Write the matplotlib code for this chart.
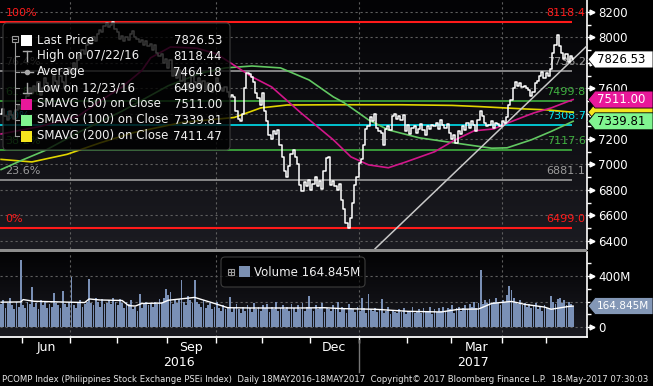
import matplotlib
matplotlib.use("Agg")
import matplotlib.pyplot as plt
from matplotlib.patches import Polygon, Rectangle, FancyBboxPatch
from matplotlib.colors import LinearSegmentedColormap
from matplotlib.transforms import blended_transform_factory
import numpy as np
import pandas as pd

# ---- data (PCOMP daily close, 18 May 2016 - 17 May 2017) ----
close = [
    7400, 7440, 7380, 7350, 7420, 7390, 7360, 7430, 7470, 7440,
    7500, 7470, 7540, 7600, 7560, 7620, 7580, 7650, 7550, 7600,
    7680, 7640, 7590, 7620, 7700, 7660, 7620, 7700, 7650, 7600,
    7720, 7760, 7720, 7800, 7750, 7820, 7860, 7900, 7870, 7940,
    7980, 7950, 8000, 7970, 8030, 8060, 8040, 8090, 8110, 8080,
    8100, 8118, 8070, 8040, 7990, 8010, 7970, 8000, 7980, 8030,
    8050, 8000, 7990, 7960, 7980, 7940, 7970, 7930, 7950, 7900,
    7940, 7880, 7850, 7870, 7800, 7830, 7760, 7820, 7700, 7760,
    7680, 7740, 7660, 7720, 7600, 7640, 7580, 7700, 7650, 7610,
    7680, 7620, 7660, 7590, 7640, 7600, 7570, 7620, 7680, 7640,
    7600, 7580, 7610, 7570, 7530, 7550, 7530, 7420, 7360, 7340,
    7400, 7600, 7720, 7710, 7690, 7650, 7560, 7520, 7470, 7560,
    7420, 7340, 7230, 7200, 7260, 7240, 7270, 7150, 7060, 6950,
    6900, 6990, 7080, 7110, 7060, 7000, 6840, 6790, 6860, 6830,
    6880, 6800, 6850, 6900, 6830, 6870, 6810, 6950, 7050, 7060,
    6840, 6870, 6830, 6800, 6850, 6720, 6650, 6540, 6499, 6580,
    6700, 6840, 6900, 7010, 7040, 7150, 7280, 7300, 7370, 7340,
    7400, 7290, 7260, 7250, 7150, 7280, 7300, 7270, 7380, 7400,
    7360, 7380, 7350, 7390, 7260, 7310, 7240, 7290, 7300, 7250,
    7280, 7320, 7270, 7230, 7300, 7280, 7310, 7300, 7330, 7280,
    7350, 7310, 7290, 7320, 7250, 7200, 7230, 7170, 7260, 7240,
    7300, 7270, 7330, 7290, 7340, 7310, 7260, 7350, 7420, 7380,
    7330, 7300, 7310, 7340, 7290, 7330, 7320, 7300, 7340, 7330,
    7370, 7470, 7510, 7600, 7650, 7620, 7640, 7610, 7620, 7600,
    7590, 7540, 7570, 7640, 7660, 7700, 7730, 7680, 7720, 7700,
    7750, 7880, 7940, 8020, 7930, 7880, 7830, 7870, 7810, 7850,
    7826.53,
]

# volume in millions
volume = [
    180, 210, 150, 190, 230, 170, 140, 200, 160, 525,
    170, 150, 200, 180, 314, 160, 190, 140, 210, 170,
    200, 150, 180, 160, 267, 190, 170, 150, 282, 180,
    160, 200, 392, 170, 150, 190, 210, 160, 180, 200,
    376, 190, 170, 230, 200, 160, 220, 180, 190, 210,
    180, 230, 200, 170, 220, 190, 150, 200, 180, 210,
    140, 160, 130, 259, 150, 180, 200, 170, 190, 160,
    200, 180, 220, 190, 230, 298, 250, 274, 180, 210,
    190, 220, 368, 200, 170, 240, 210, 190, 368, 200,
    180, 160, 210, 150, 170, 190, 140, 160, 200, 150,
    130, 170, 140, 160, 235, 120, 150, 180, 140, 110,
    160, 130, 170, 150, 120, 190, 140, 160, 130, 170,
    150, 180, 120, 160, 140, 200, 130, 150, 170, 140,
    160, 130, 180, 150, 120, 170, 140, 190, 130, 160,
    243, 150, 130, 170, 140, 160, 190, 120, 150, 140,
    130, 170, 140, 196, 120, 160, 140, 110, 180, 150,
    140, 120, 160, 130, 227, 150, 110, 259, 140, 130,
    150, 120, 140, 220, 110, 130, 160, 100, 130, 120,
    110, 140, 120, 150, 100, 130, 120, 160, 110, 130,
    140, 110, 150, 120, 130, 160, 100, 140, 120, 150,
    130, 160, 120, 150, 140, 170, 110, 150, 160, 130,
    150, 170, 140, 180, 160, 200, 150, 190, 447, 180,
    210, 190, 220, 180, 200, 230, 190, 170, 210, 200,
    250, 321, 290, 230, 200, 180, 210, 170, 190, 160,
    180, 150, 170, 190, 140, 160, 130, 170, 150, 140,
    243, 200, 180, 220, 230, 190, 210, 170, 200, 180,
    164.845,
]

# moving averages: (day index, value)
sma50_idx = [0, 18, 35, 45, 55, 64, 68, 77, 89, 98, 106, 114, 123, 136, 151, 159,
             167, 176, 184, 197, 206, 215, 224, 230, 242, 250, 260]
sma50_val = [7240, 7300, 7380, 7500, 7610, 7740, 7840, 7925, 7915, 7870, 7780, 7690,
             7610, 7410, 7194, 7060, 6997, 6974, 7020, 7100, 7190, 7265, 7280, 7325,
             7405, 7445, 7511]
sma100_idx = [0, 9, 20, 36, 55, 76, 91, 102, 114, 127, 140, 151, 156, 167, 176, 190,
              212, 223, 230, 241, 250, 260]
sma100_val = [6960, 7030, 7110, 7260, 7420, 7620, 7720, 7760, 7775, 7760, 7665, 7532,
              7485, 7351, 7272, 7210, 7155, 7128, 7131, 7194, 7260, 7340]
sma200_idx = [0, 14, 30, 45, 60, 82, 106, 118, 130, 151, 182, 205, 218, 238, 248, 260]
sma200_val = [7040, 7020, 7080, 7170, 7250, 7330, 7370, 7445, 7468, 7470, 7470, 7465,
              7455, 7437, 7430, 7411]
volma_idx = [0, 9, 10, 15, 38, 40, 45, 55, 58, 61, 64, 73, 76, 88, 97, 103, 114, 136,
             147, 155, 170, 185, 200, 208, 217, 223, 232, 238, 247, 250, 258, 260]
volma_val = [195, 197, 215, 202, 192, 220, 212, 208, 168, 165, 185, 188, 210, 232, 185,
             152, 150, 150, 152, 145, 140, 124, 119, 140, 142, 185, 201, 178, 157, 140,
             162, 165]

# trend line (day index, value)
trend_idx = [170, 267]
trend_val = [6337, 7945]

# Fibonacci retracement levels
fib_pct = ["100%", "76.4%", "61.8%", "50%", "38.2%", "23.6%", "0%"]
fib_val = [8118.44, 7736.2, 7499.8, 7308.7, 7117.6, 6881.1, 6499.0]
fib_txt = ["8118.4", "7736.2", "7499.8", "7308.7", "7117.6", "6881.1", "6499.0"]
fib_col = ["#ff1a1a", "#9a9a9a", "#3fb03f", "#00e0f0", "#3fb03f", "#9a9a9a", "#ff1a1a"]

legend_labels = ["Last Price", "High on 07/22/16", "Average", "Low on 12/23/16",
                 "SMAVG (50) on Close", "SMAVG (100) on Close", "SMAVG (200) on Close"]
legend_values = ["7826.53", "8118.44", "7464.18", "6499.00", "7511.00", "7339.81", "7411.47"]

price_ticks = list(range(6400, 8201, 200))
hidden_ticks = [7400, 7800]  # covered by the value tags
month_labels = {6: "Jun", 9: "Sep", 12: "Dec", 3: "Mar"}
footer = ("PCOMP Index (Philippines Stock Exchange PSEi Index)  Daily 18MAY2016-18MAY2017  "
          "Copyright\u00a9 2017 Bloomberg Finance L.P.  18-May-2017 07:30:03")

# ---- figure layout ----
W, H = 653, 386
fig = plt.figure(figsize=(W / 100, H / 100), dpi=100, facecolor="black")
plt.rcParams["font.family"] = ["DejaVu Sans"]

ax = fig.add_axes([0, 1 - 249 / H, 587 / W, 249 / H])
axv = fig.add_axes([0, 1 - 337 / H, 587 / W, (337 - 252) / H])
ov = fig.add_axes([0, 0, 1, 1], zorder=10)
ov.set_xlim(0, W)
ov.set_ylim(H, 0)
ov.axis("off")
ov.patch.set_alpha(0)

n = len(close)
x = np.arange(n)
dates = pd.bdate_range("2016-05-18", periods=n)
XL = (-0.5, 266.3)

grad = LinearSegmentedColormap.from_list("bg", ["#030305", "#1b1b21"])
for a in (ax, axv):
    a.imshow(np.linspace(0, 1, 100).reshape(-1, 1), extent=[0, 1, 0, 1], transform=a.transAxes,
             cmap=grad, aspect="auto", zorder=0, origin="upper")
    a.set_xlim(*XL)
    for s in ("top", "left", "bottom"):
        a.spines[s].set_visible(False)
    a.spines["right"].set_color("white")
    a.spines["right"].set_linewidth(1.2)
    a.yaxis.tick_right()
    a.tick_params(axis="y", colors="white", labelsize=8.5, length=5, width=1, pad=3)
    a.tick_params(axis="y", which="minor", colors="white", length=3, width=1)

ax.set_ylim(6334.7, 8294.5)
axv.set_ylim(-75, 584)

# month starts
mstart = [i for i in range(1, n) if dates[i].month != dates[i - 1].month]
quarters = [i for i in mstart if dates[i].month in (1, 4, 7, 10)]
grid_kw = dict(color="#5e5e5e", lw=0.8, ls=(0, (2, 2.5)), zorder=1)
for q in quarters:
    ax.axvline(q - 0.5, **grid_kw)
    axv.axvline(q - 0.5, **grid_kw)
for t in price_ticks:
    ax.axhline(t, **grid_kw)
for t in (0, 200, 400):
    axv.axhline(t, **grid_kw)

# price axis ticks
ax.set_yticks(price_ticks)
ax.set_yticklabels(["" if t in hidden_ticks else str(t) for t in price_ticks])
ax.set_yticks(range(6500, 8300, 200), minor=True)
ax.set_xticks([])
trans = blended_transform_factory(ax.transAxes, ax.transData)
ax.plot(np.full(len(price_ticks), 1 + 5 / 587), price_ticks, ls="none", marker=">", ms=3.5,
        color="white", transform=trans, clip_on=False)

# fib levels
for p, v, t, c in zip(fib_pct, fib_val, fib_txt, fib_col):
    lw = 1.5 if c == "#ff1a1a" else 1.2
    ax.hlines(v, -0.5, 259.5, color=c, lw=lw, zorder=2)
    ax.annotate(p, (2, v), xytext=(0, 6.5), textcoords="offset points", color=c,
                fontsize=8, va="center", ha="left", zorder=2)
    ax.annotate(t, (1.0, v), xycoords=trans, xytext=(-1, 6.5), textcoords="offset points",
                color=c, fontsize=8, va="center", ha="right", zorder=2)

# moving averages, trend line, price
ax.plot(sma200_idx, sma200_val, color="#e2d600", lw=1.2, zorder=3)
ax.plot(sma100_idx, sma100_val, color="#62c862", lw=1.2, zorder=3)
ax.plot(sma50_idx, sma50_val, color="#d2168a", lw=1.2, zorder=3)
ax.plot(trend_idx, trend_val, color="#c8c8c8", lw=1.1, zorder=3)
ax.plot(x, close, color="white", lw=1.1, drawstyle="steps-mid", zorder=4)

# volume panel
axv.bar(x, volume, width=0.8, color="#7a90b6", lw=0, antialiased=False, zorder=2)
axv.plot(volma_idx, volma_val, color="white", lw=1.0, zorder=3)
axv.set_yticks([0, 400])
axv.set_yticklabels(["0", "400M"])
axv.set_yticks([100, 200, 300, 500], minor=True)
transv = blended_transform_factory(axv.transAxes, axv.transData)
axv.plot([1 + 5 / 587] * 2, [0, 400], ls="none", marker=">", ms=3.5, color="white",
         transform=transv, clip_on=False)
axv.spines["bottom"].set_visible(True)
axv.spines["bottom"].set_color("white")
axv.spines["bottom"].set_linewidth(1.3)
axv.set_xticks([i - 0.5 for i in mstart])
axv.set_xticklabels([])
axv.tick_params(axis="x", colors="white", length=4, width=1)
mids, mlabs = [], []
bounds = mstart + [n + 20]
for a0, a1 in zip(bounds[:-1], bounds[1:]):
    m = dates[a0].month
    if m in month_labels:
        mids.append((a0 + a1) / 2 - 0.5)
        mlabs.append(month_labels[m])
axv.set_xticks(mids, minor=True)
axv.set_xticklabels(mlabs, minor=True)
axv.tick_params(axis="x", which="minor", length=0, pad=3, labelsize=9, labelcolor="white")


def to_px(a, xv, yv):
    X, Y = a.transData.transform((xv, yv))
    return X, H - Y


# separator band between panels
ov.add_patch(Rectangle((0, 249), 587, 3, fc="#8c8c8c", ec="none"))

# year labels and separator
jan = [i for i in mstart if dates[i].month == 1][0]
xj, _ = to_px(axv, jan - 0.5, 0)
x0, _ = to_px(axv, XL[0], 0)
x1, _ = to_px(axv, XL[1], 0)
ov.plot([xj, xj], [340, 372], color="#777777", lw=1)
ov.text((x0 + xj) / 2, 362, str(dates[0].year), color="white", fontsize=9, ha="center", va="center")
ov.text((xj + x1) / 2, 362, str(dates[jan].year), color="white", fontsize=9, ha="center", va="center")
ft = ov.text(2, 379, footer, color="#e6e6e6", fontsize=6.2, ha="left", va="center")
fig.canvas.draw()
fw = ft.get_window_extent(renderer=fig.canvas.get_renderer()).width
ft.set_fontsize(6.2 * min(1.0, 646 / fw))

# legend box (price)
ov.add_patch(FancyBboxPatch((3, 23), 227, 127, boxstyle="round,pad=0,rounding_size=4",
                            fc=(0, 0, 0, 0.78), ec="#3c3c3c", lw=0.8))
rows = [40, 56, 72, 88, 104, 120, 136]
ov.add_patch(Rectangle((11.5, 35.5), 6, 6, fc="none", ec="#9a9a9a", lw=0.8))
ov.plot([12.8, 16.2], [38.5, 38.5], color="#9a9a9a", lw=0.8)
ov.plot([14.5, 14.5], [41.5, 136], color="#9a9a9a", lw=0.8)
for r in rows[1:]:
    ov.plot([14.5, 19], [r, r], color="#9a9a9a", lw=0.8)
icon_c = "#a8a8a8"
ov.plot([23, 31], [51, 51], color=icon_c, lw=1)
ov.plot([27, 27], [51, 61], color=icon_c, lw=1)
ov.plot([21, 33], [72, 72], color=icon_c, lw=1)
ov.plot([27], [72], marker="o", ms=3, color=icon_c)
ov.plot([27, 27], [83, 93], color=icon_c, lw=1)
ov.plot([23, 31], [93, 93], color=icon_c, lw=1)
sq_cols = {0: "white", 4: "#e8189a", 5: "#80f590", 6: "#f5e61e"}
for k, c in sq_cols.items():
    ov.add_patch(Rectangle((21, rows[k] - 5.5), 11, 11, fc=c, ec="none"))
for r, lab, val in zip(rows, legend_labels, legend_values):
    ov.text(37, r, lab, color="#f0f0f0", fontsize=8.5, va="center", ha="left")
    ov.text(222, r, val, color="#f0f0f0", fontsize=8.5, va="center", ha="right")

# volume legend box
ov.add_patch(FancyBboxPatch((221, 257), 144, 30, boxstyle="round,pad=0,rounding_size=4",
                            fc=(0, 0, 0, 0.6), ec="#3c3c3c", lw=0.8))
ov.add_patch(Rectangle((228, 269), 6, 6, fc="none", ec="#9a9a9a", lw=0.8))
ov.plot([229.3, 232.7], [272, 272], color="#9a9a9a", lw=0.8)
ov.plot([231, 231], [270.3, 273.7], color="#9a9a9a", lw=0.8)
ov.add_patch(Rectangle((239, 266), 11, 11, fc="#7b90b2", ec="none"))
ov.text(254, 272, "Volume %.3fM" % volume[-1], color="#f0f0f0", fontsize=8.5,
        va="center", ha="left")


# value tags on the right axis
def tag(a, val, text, bg, fg, z, fs=8.5):
    _, py = to_px(a, 0, val)
    h = 8.5
    poly = Polygon([(588, py), (595, py - h), (653, py - h), (653, py + h), (595, py + h)],
                   closed=True, fc=bg, ec="black", lw=0.6, zorder=z)
    ov.add_patch(poly)
    if text:
        ov.text(597, py, text, color=fg, fontsize=fs, va="center", ha="left", zorder=z)


tag(ax, 7411.47, "", "#f5e61e", "#333300", 1)  # SMAVG(200) tag, mostly hidden
tag(ax, 7511.00, "7511.00", "#e8189a", "white", 2)
tag(ax, 7339.81, "7339.81", "#80f590", "black", 2)
tag(ax, close[-1], "%.2f" % close[-1], "white", "black", 3)
tag(axv, volume[-1], "%.3fM" % volume[-1], "#8397b6", "white", 3, fs=7.6)

fig.savefig("out.png", dpi=100, facecolor="black")
